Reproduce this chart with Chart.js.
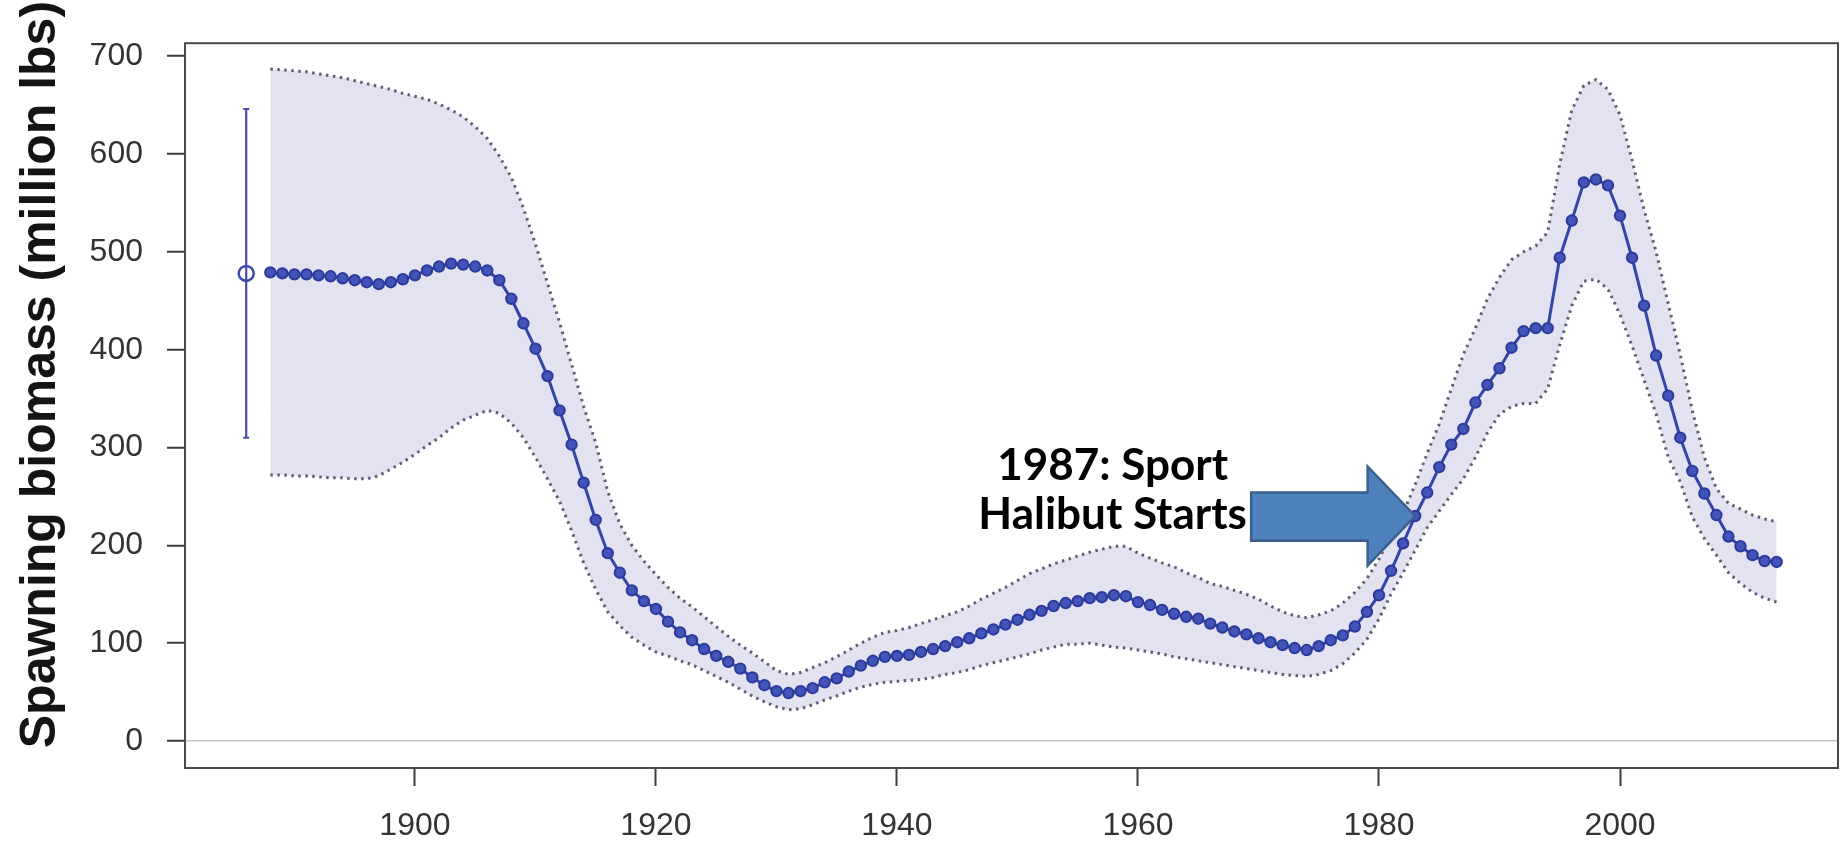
<!DOCTYPE html>
<html><head><meta charset="utf-8">
<script src="https://cdn.jsdelivr.net/npm/chart.js@4.4.0/dist/chart.umd.min.js"></script>
<style>html,body{margin:0;padding:0;background:#fff;}canvas{display:block;}</style>
</head><body>
<canvas id="c" width="1848" height="851"></canvas>
<script>
const years = [
1888,1889,1890,1891,1892,1893,1894,1895,1896,1897,
1898,1899,1900,1901,1902,1903,1904,1905,1906,1907,
1908,1909,1910,1911,1912,1913,1914,1915,1916,1917,
1918,1919,1920,1921,1922,1923,1924,1925,1926,1927,
1928,1929,1930,1931,1932,1933,1934,1935,1936,1937,
1938,1939,1940,1941,1942,1943,1944,1945,1946,1947,
1948,1949,1950,1951,1952,1953,1954,1955,1956,1957,
1958,1959,1960,1961,1962,1963,1964,1965,1966,1967,
1968,1969,1970,1971,1972,1973,1974,1975,1976,1977,
1978,1979,1980,1981,1982,1983,1984,1985,1986,1987,
1988,1989,1990,1991,1992,1993,1994,1995,1996,1997,
1998,1999,2000,2001,2002,2003,2004,2005,2006,2007,
2008,2009,2010,2011,2012,2013];
const biomass = [
479,478,477,477,476,475,473,471,469,467,
469,472,476,481,485,488,487,485,481,471,
452,427,401,373,338,303,264,226,192,172,
154,143,135,122,111,103,94,87,81,74,
65,57,51,49,51,54,60,64,71,77,
82,86,87,88,91,94,97,101,105,110,
114,119,124,129,133,138,141,143,146,147,
149,148,142,139,134,130,127,125,120,116,
112,109,105,101,98,95,93,97,103,108,
117,132,149,174,202,230,254,280,303,319,
346,364,381,402,419,422,422,494,532,571,
574,568,537,494,445,394,353,310,276,253,
231,209,199,190,184,183];
const upperCI = [
687,686,685,684,682,680,678,675,672,669,
666,662,659,656,651,645,638,628,616,598,
576,545,508,468,428,385,342,305,255,222,
200,184,170,157,146,137,127,117,107,98,
90,81,72,68,70,75,80,86,93,100,
106,111,113,116,120,124,128,132,138,145,
151,157,164,171,176,181,185,189,193,196,
199,199,192,187,182,178,172,167,161,158,
154,150,145,138,132,128,126,129,133,141,
152,166,186,210,233,262,294,324,360,395,
422,452,474,492,500,506,520,590,645,670,
676,666,640,594,543,500,447,395,338,290,
258,243,237,231,227,224];
const lowerCI = [
272,272,271,271,270,269,269,268,268,271,
278,285,293,302,310,320,328,333,338,335,
325,310,290,268,245,215,182,155,132,118,
106,98,91,87,82,78,72,66,60,53,
46,40,35,32,33,37,42,46,51,55,
58,60,61,62,63,65,68,70,73,77,
80,83,86,89,93,96,99,99,100,98,
96,95,93,91,89,86,84,82,80,78,
76,74,72,70,68,67,66,68,72,79,
90,104,125,150,172,195,218,235,252,268,
290,315,334,342,345,345,360,405,445,470,
472,462,436,404,369,334,290,265,229,207,
190,172,161,152,146,142];
const earlyYear = [1886];
const earlyValue = [478];
const earlyRange = [310, 646];
const yTickValues = [0,100,200,300,400,500,600,700];
const xTickValues = [1900,1920,1940,1960,1980,2000];
const yAxisTitle = 'Spawning biomass (million lbs)';
const noteLines = ['1987: Sport', 'Halibut Starts'];
const noteYear = 1983;

const toPts = (vals) => years.map((yr, i) => ({x: yr, y: vals[i]}));

const decor = {
  id: 'decor',
  afterDraw(chart) {
    const {ctx, chartArea: ca, scales} = chart;
    ctx.save();
    ctx.strokeStyle = '#4a4a4a';
    ctx.lineWidth = 2;
    ctx.strokeRect(ca.left, ca.top, ca.right - ca.left, ca.bottom - ca.top);
    ctx.save();
    ctx.translate(55, (ca.top + ca.bottom) / 2 - 31);
    ctx.rotate(-Math.PI / 2);
    ctx.font = 'bold 50px "Liberation Sans", Arial, sans-serif';
    ctx.fillStyle = '#141414';
    ctx.textAlign = 'center';
    ctx.textBaseline = 'alphabetic';
    ctx.fillText(yAxisTitle, 0, 0);
    ctx.restore();
    const idx = years.indexOf(noteYear);
    const tx = scales.x.getPixelForValue(noteYear);
    const ty = scales.y.getPixelForValue(biomass[idx]);
    ctx.beginPath();
    ctx.moveTo(tx, ty);
    ctx.lineTo(tx - 47.5, ty - 49.5);
    ctx.lineTo(tx - 47.5, ty - 23.5);
    ctx.lineTo(tx - 164, ty - 23.5);
    ctx.lineTo(tx - 164, ty + 24.7);
    ctx.lineTo(tx - 47.5, ty + 24.7);
    ctx.lineTo(tx - 47.5, ty + 49.7);
    ctx.closePath();
    ctx.fillStyle = '#4f81bd';
    ctx.fill();
    ctx.strokeStyle = '#3a5f8e';
    ctx.lineWidth = 2.5;
    ctx.lineJoin = 'miter';
    ctx.stroke();
    ctx.fillStyle = '#000';
    ctx.font = 'bold 44px Lato, "Open Sans", sans-serif';
    ctx.textAlign = 'center';
    ctx.textBaseline = 'alphabetic';
    ctx.fillText(noteLines[0], tx - 302.5, ty - 35.5);
    ctx.fillText(noteLines[1], tx - 302.5, ty + 13);
    ctx.restore();
  }
};

const tickFont = {family: '"Liberation Sans", Arial, sans-serif', size: 32};

new Chart(document.getElementById('c'), {
  type: 'line',
  data: {
    datasets: [
      {
        data: earlyYear.map((yr, i) => ({x: yr, y: earlyValue[i]})),
        showLine: false,
        pointRadius: 7.5,
        pointBorderWidth: 2.5,
        pointBorderColor: '#3b4aa8',
        pointBackgroundColor: 'rgba(255,255,255,0)'
      },
      {
        data: earlyRange.map(v => ({x: earlyYear[0], y: v})),
        borderColor: '#4b4ca6',
        borderWidth: 2.2,
        pointStyle: 'line',
        pointRadius: 3,
        pointBorderWidth: 2,
        pointBorderColor: '#4b4ca6'
      },
      {
        data: toPts(biomass),
        borderColor: '#3445a8',
        borderWidth: 3,
        pointRadius: 5.2,
        pointBorderWidth: 2,
        pointBackgroundColor: '#4254b8',
        pointBorderColor: '#2c3b9b',
        tension: 0,
        fill: false
      },
      {
        data: toPts(upperCI),
        borderColor: '#5e5e76',
        borderWidth: 3,
        borderDash: [2.5, 4.5],
        pointRadius: 0,
        fill: '+1',
        backgroundColor: 'rgb(226,226,241)'
      },
      {
        data: toPts(lowerCI),
        borderColor: '#5e5e76',
        borderWidth: 3,
        borderDash: [2.5, 4.5],
        pointRadius: 0,
        fill: false
      }
    ]
  },
  options: {
    responsive: false,
    animation: false,
    devicePixelRatio: 1,
    layout: {padding: {top: 16, right: 6, left: 0, bottom: 0}},
    plugins: {
      legend: {display: false},
      tooltip: {enabled: false},
      filler: {propagate: false, drawTime: 'beforeDatasetsDraw'}
    },
    scales: {
      x: {
        type: 'linear',
        min: 1880.92,
        max: 2018.09,
        afterFit: s => { s.height = 83; },
        afterBuildTicks: s => { s.ticks = xTickValues.map(v => ({value: v})); },
        border: {display: false},
        grid: {drawOnChartArea: false, drawTicks: true, tickLength: 18, tickColor: '#3c3c3c', tickWidth: 2},
        ticks: {font: tickFont, color: '#333', padding: 21, maxRotation: 0, autoSkip: false, callback: v => String(v)}
      },
      y: {
        type: 'linear',
        min: -27.6,
        max: 713.3,
        afterFit: s => { s.width = 185; },
        afterBuildTicks: s => { s.ticks = yTickValues.map(v => ({value: v})); },
        border: {display: false},
        grid: {
          drawTicks: true, tickLength: 18, tickColor: '#3c3c3c', tickWidth: 2,
          lineWidth: 1.5,
          color: c => (c.tick && c.tick.value === 0) ? '#c4c4c4' : 'rgba(0,0,0,0)'
        },
        ticks: {font: tickFont, color: '#333', padding: 24, callback: v => String(v)}
      }
    }
  },
  plugins: [decor]
});
</script>
</body></html>
